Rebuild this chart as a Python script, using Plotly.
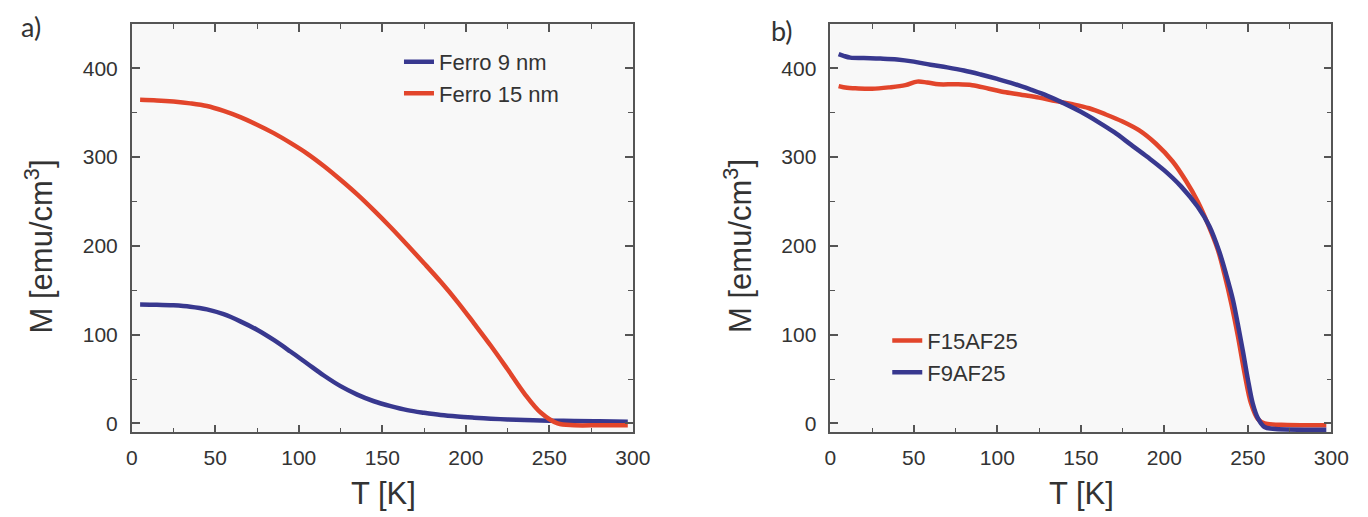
import plotly.graph_objects as go

# Panel a: single ferromagnetic layers (M in emu/cm^3 vs T in K)
t_f9 = [5, 15, 25, 35, 45, 55, 65, 75, 85, 95, 105, 115, 125, 135, 145, 155,
        165, 175, 185, 195, 205, 215, 225, 235, 245, 255, 265, 280, 297]
m_f9 = [134, 133.7, 133, 131.5, 128.5, 123, 115, 105.5, 94, 81, 67.5, 54, 42,
        32.5, 25, 19.5, 15, 12, 9.5, 7.8, 6.5, 5.4, 4.5, 3.8, 3.3, 3, 2.7, 2.4,
        2]

t_f15 = [5, 15, 25, 35, 45, 55, 65, 75, 85, 95, 105, 115, 125, 135, 145, 155,
         165, 175, 185, 195, 205, 215, 225, 235, 245, 255, 265, 280, 297]
m_f15 = [364.5, 363.8, 362.5, 360.5, 357.5, 352, 345, 336.5, 327, 316, 304,
         290, 274.5, 258, 240, 221, 201, 180.5, 159.5, 137, 112.5, 87.5, 61, 34,
         12, 0, -2, -2, -2]

# Panel b: ferro/antiferro bilayers
t_f15af = [5, 10, 15, 25, 35, 45, 52, 58, 65, 75, 85, 95, 105, 115, 125, 135,
           145, 155, 165, 175, 185, 195, 205, 213, 220, 226, 232, 236, 240,
           244, 248, 252, 256, 260, 270, 297]
m_f15af = [380, 378, 377.5, 377, 378.5, 381, 385, 384, 382, 382, 381, 377, 373,
           370, 367, 363, 359.5, 355, 348, 340, 330, 315, 295, 273, 250, 225,
           196, 168, 136, 99, 57, 22, 5, 0, -1.5, -2]

t_f9af = [5, 8, 12, 20, 30, 40, 50, 60, 70, 80, 90, 100, 110, 120, 130, 140,
          150, 160, 170, 180, 190, 200, 210, 220, 227, 233, 237, 241, 244, 247,
          250, 253, 256, 260, 265, 297]
m_f9af = [416, 414, 412, 411.5, 411, 410, 407.5, 404, 401, 397.5, 393, 388,
          382.5, 376, 369, 360.5, 351, 340, 328, 314, 300, 285, 267, 244, 222,
          193, 168, 140, 112, 82, 50, 22, 6, -4, -6, -7]

BLUE = "#38388f"
RED = "#e2452b"
TXT = "#333333"
FAMILY = "Liberation Sans"
W, H = 1368, 517

fig = go.Figure()
fig.add_trace(go.Scatter(x=t_f9, y=m_f9, name="Ferro 9 nm", mode="lines",
                         line=dict(color=BLUE, width=4.5, shape="spline"),
                         xaxis="x", yaxis="y", legend="legend"))
fig.add_trace(go.Scatter(x=t_f15, y=m_f15, name="Ferro 15 nm", mode="lines",
                         line=dict(color=RED, width=4.5, shape="spline"),
                         xaxis="x", yaxis="y", legend="legend"))
fig.add_trace(go.Scatter(x=t_f15af, y=m_f15af, name="F15AF25", mode="lines",
                         line=dict(color=RED, width=4.5, shape="spline"),
                         xaxis="x2", yaxis="y2", legend="legend2"))
fig.add_trace(go.Scatter(x=t_f9af, y=m_f9af, name="F9AF25", mode="lines",
                         line=dict(color=BLUE, width=4.5, shape="spline"),
                         xaxis="x2", yaxis="y2", legend="legend2"))

tickfont = dict(family=FAMILY, size=21, color=TXT)


def xaxis(domain, anchor):
    return dict(domain=domain, anchor=anchor, range=[0, 300], tick0=0, dtick=50,
                ticks="inside", ticklen=8, tickwidth=1.5, tickcolor="#555",
                minor=dict(ticks="inside", dtick=25, ticklen=5, tickwidth=1.2,
                           tickcolor="#555"),
                showline=True, linecolor="#555", linewidth=1.5, mirror="allticks",
                showgrid=False, zeroline=False, tickfont=tickfont,
                ticklabelstandoff=6)


def yaxis(anchor):
    return dict(domain=[1 - 434 / H, 1 - 24 / H], anchor=anchor, range=[-10, 450],
                tick0=0, dtick=100, ticks="inside", ticklen=8, tickwidth=1.5,
                tickcolor="#555",
                minor=dict(ticks="inside", dtick=50, ticklen=5, tickwidth=1.2,
                           tickcolor="#555"),
                showline=True, linecolor="#555", linewidth=1.5, mirror="allticks",
                showgrid=False, zeroline=False, tickfont=tickfont,
                ticklabelstandoff=8)


legfont = dict(family=FAMILY, size=22, color=TXT)
titlefont = dict(family=FAMILY, size=31, color=TXT)
labelfont = dict(family="Lato", size=27, color=TXT)

fig.update_layout(
    width=W, height=H,
    margin=dict(l=0, r=0, t=0, b=0),
    paper_bgcolor="white",
    plot_bgcolor="#f8f8f8",
    xaxis=xaxis([128 / W, 638 / W], "y"),
    yaxis=yaxis("x"),
    xaxis2=xaxis([839 / W, 1349 / W], "y2"),
    yaxis2=yaxis("x2"),
    legend=dict(x=400 / W, y=1 - 41 / H, xanchor="left", yanchor="top",
                bgcolor="rgba(0,0,0,0)", font=legfont, tracegroupgap=0),
    legend2=dict(x=897 / W, y=1 - 321 / H, xanchor="left", yanchor="top",
                 bgcolor="rgba(0,0,0,0)", font=legfont, tracegroupgap=0),
    annotations=[
        dict(text="a)", x=13 / W, y=1 - 27 / H, xref="paper", yref="paper",
             xanchor="left", yanchor="middle", showarrow=False, font=labelfont),
        dict(text="b)", x=777 / W, y=1 - 31 / H, xref="paper", yref="paper",
             xanchor="left", yanchor="middle", showarrow=False, font=labelfont),
        dict(text="T [K]", x=384 / W, y=1 - 495 / H, xref="paper", yref="paper",
             xanchor="center", yanchor="middle", showarrow=False, font=titlefont),
        dict(text="T [K]", x=1095 / W, y=1 - 495 / H, xref="paper", yref="paper",
             xanchor="center", yanchor="middle", showarrow=False, font=titlefont),
        dict(text="M [emu/cm<sup>3</sup>]", x=34 / W, y=1 - 247 / H,
             xref="paper", yref="paper", xanchor="center", yanchor="middle",
             textangle=-90, showarrow=False, font=titlefont),
        dict(text="M [emu/cm<sup>3</sup>]", x=745 / W, y=1 - 247 / H,
             xref="paper", yref="paper", xanchor="center", yanchor="middle",
             textangle=-90, showarrow=False, font=titlefont),
    ],
)

fig.write_html("out.html")
